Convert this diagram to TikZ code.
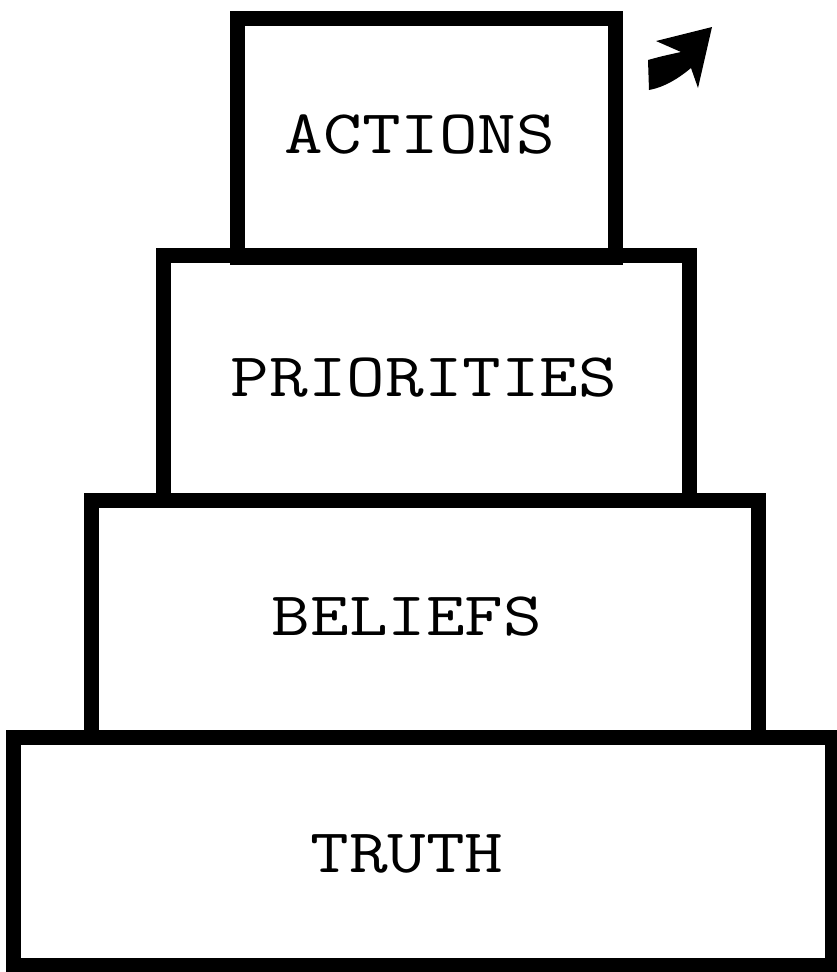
\documentclass[tikz,border=0pt]{standalone}
\usepackage{fontspec}
\begin{document}
\begin{tikzpicture}[x=1pt,y=-1pt,
  tier/.style={draw=black,line width=15pt,rectangle,inner sep=0pt,outer sep=0pt},
  word/.style={inner sep=0pt,font=\ttfamily\fontsize{62}{66}\selectfont,xscale=1.21,anchor=center}]
\useasboundingbox (0,0) rectangle (837,972);
\node[tier,minimum width=819pt,minimum height=228pt] (truth) at (422.5,851) {};
\node[tier,minimum width=667pt,minimum height=237pt] (beliefs) at (424.5,618.5) {};
\node[tier,minimum width=526pt,minimum height=245pt] (priorities) at (426,377.5) {};
\node[tier,minimum width=378pt,minimum height=239pt] (actions) at (426,137.5) {};
\node[word] (tA) at (420,134) {ACTIONS};
\node[word] (tP) at (424,378) {PRIORITIES};
\node[word] (tB) at (407,617) {BELIEFS};
\node[word] (tT) at (407,854) {TRUTH};
\fill[black] (648,60) .. controls (662,56) and (672,54) .. (681,52) -- (656,41) -- (712,27) -- (698,88) -- (691,68) .. controls (679,78) and (665,87) .. (649,90) -- cycle;
\end{tikzpicture}
\end{document}
